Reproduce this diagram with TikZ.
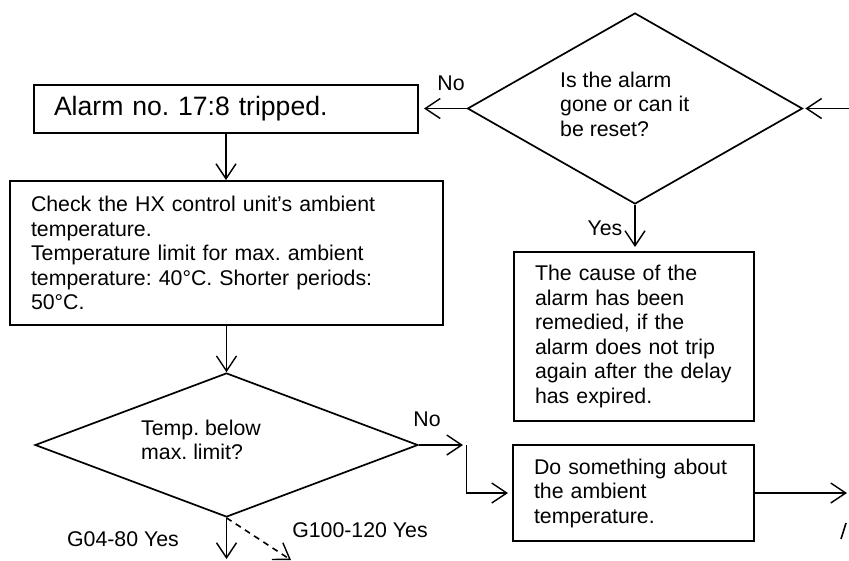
\documentclass[tikz,border=0pt]{standalone}
\usepackage{fontspec}
\setmainfont{Liberation Sans}
\usepackage{xcolor}
\definecolor{fcink}{HTML}{000000}
\definecolor{fcbg}{HTML}{FFFFFF}
\usetikzlibrary{arrows.meta,shapes.geometric}
\frenchspacing
\newcommand{\fcfont}{\fontsize{21.3}{24.5}\selectfont}
\tikzset{
  fcbox/.style  ={rectangle, draw=fcink, line width=2pt, fill=fcbg,
                  inner xsep=21pt, inner ysep=0pt, align=left,
                  text=fcink, font=\fcfont},
  fcdiam/.style ={diamond, draw=fcink, line width=1.7pt, inner sep=0pt},
  fctxt/.style  ={align=left, inner sep=0pt, text=fcink, font=\fcfont},
  fcarrow/.style={-{Straight Barb[length=15pt,width=20pt,line width=1.4pt]},
                  line width=1.6pt, draw=fcink},
  fcdash/.style ={fcarrow, dash pattern=on 6pt off 5pt},
  fclbl/.style  ={font=\fcfont, text=fcink, inner sep=0pt},
}

\begin{document}
\begin{tikzpicture}[x=1pt, y=-1pt]
  \fill[fcbg] (0,0) rectangle (849,560);
  \useasboundingbox (0,0) rectangle (849,560);
  \node[fcbox, text width=344pt, minimum height=48pt, inner xsep=20pt,
        font=\fontsize{26.6}{30}\selectfont]
       (alarm) at (226,109) {Alarm no. 17:8 tripped.};
  \node[fcbox, text width=391pt, minimum height=144pt]
       (check) at (226.5,253)
       {Check the HX control unit\char39 s ambient\\temperature.\\
        Temperature limit for max. ambient\\
        temperature: 40°C. Shorter periods:\\50°C.};
  \node[fcdiam, minimum width=335pt, minimum height=191pt] (gone) at (635,108.5) {};
  \node[fctxt, anchor=west] (gonetxt) at (560,104)
       {Is the alarm\\gone or can it\\be reset?};
  \node[fcbox, text width=198pt, minimum height=169pt]
       (cause) at (634,336.5)
       {The cause of the\\alarm has been\\remedied, if the\\alarm does not trip\\
        again after the delay\\has expired.};
  \node[fcdiam, minimum width=383pt, minimum height=144pt] (below) at (226.5,445) {};
  \node[fctxt, anchor=west] (belowtxt) at (141,440) {Temp. below\\max. limit?};
  \node[fcbox, text width=199pt, minimum height=96pt]
       (doamb) at (633.5,493) {Do something about\\the ambient\\temperature.};
  \coordinate (rin) at (849,108.5);
  \coordinate (noend) at (463,445);
  \coordinate (jog) at (466.5,445);
  \coordinate (doout) at (847,493);
  \coordinate (yesa) at (226.5,559);
  \coordinate (yesb) at (291,560);
  \coordinate (cuta) at (846,523);
  \coordinate (cutb) at (841,539);
  \draw[fcarrow] (alarm.south) -- (alarm.south |- check.north);
  \draw[fcarrow] (check.south) -- (below.north);
  \draw[fcarrow, shorten >=5pt] (gone.west) -- (gone.west -| alarm.east);
  \draw[fcarrow, shorten >=2pt] (rin) -- (gone.east);
  \draw[fcarrow, shorten >=4pt] (gone.south) -- (gone.south |- cause.north);
  \draw[fcarrow] (below.east) -- (noend);
  \draw[fcarrow, shorten >=4pt] (jog) |- (doamb.west);
  \draw[fcarrow] (doamb.east) -- (doout);
  \draw[fcarrow] (below.south) -- (yesa);
  \draw[fcdash] (below.south) -- (yesb);
  \draw[line width=1.6pt, draw=fcink] (cuta) -- (cutb);
  \node[fclbl] (nogone) at (451,83) {No};
  \node[fclbl] (yesgone) at (605,228) {Yes};
  \node[fclbl] (nobelow) at (427,419) {No};
  \node[fclbl] (yesg04) at (123,539) {G04-80 Yes};
  \node[fclbl] (yesg100) at (360,530) {G100-120 Yes};
\end{tikzpicture}
\end{document}
